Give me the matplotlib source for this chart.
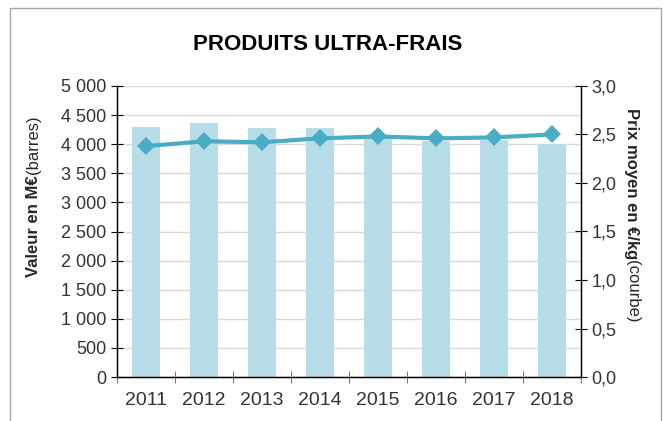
import matplotlib
matplotlib.use('Agg')
import matplotlib.pyplot as plt
from matplotlib.lines import Line2D
import numpy as np

plt.rcParams['font.family'] = ['Liberation Sans', 'DejaVu Sans']

# données
annees = ['2011', '2012', '2013', '2014', '2015', '2016', '2017', '2018']
valeur = [4300, 4370, 4270, 4285, 4165, 4060, 4070, 3995]   # M€ (barres)
prix = [2.38, 2.43, 2.42, 2.46, 2.48, 2.46, 2.47, 2.50]      # €/kg (courbe)

W, H = 663, 421
fig = plt.figure(figsize=(W / 100, H / 100), dpi=100, facecolor='w')

# cadre gris autour du graphique
fig.add_artist(Line2D([9.5 / W, 9.5 / W, 660.5 / W, 660.5 / W],
                      [0, 1 - 8 / H, 1 - 8 / H, 0],
                      transform=fig.transFigure, color='#a6a6a6', lw=1))

ax = fig.add_axes([117 / W, 1 - 377 / H, (581 - 117) / W, (377 - 86) / H])
x = np.arange(len(annees))

ax.bar(x, valeur, width=0.48, color='#b7dde8', zorder=2)
ax.set_ylim(0, 5000)
ax.set_xlim(-0.5, len(annees) - 0.5)
ax.set_yticks(np.arange(0, 5001, 500))
ax.set_yticklabels([f'{v:,}'.replace(',', ' ') for v in range(0, 5001, 500)])
ax.grid(axis='y', color='#d9d9d9', lw=1, zorder=0)
ax.set_axisbelow(True)

ax.set_xticks(x)
ax.set_xticklabels(annees)
ax.set_xticks(np.arange(-0.5, len(annees), 1), minor=True)
ax.tick_params(axis='x', which='major', length=0, labelsize=14, colors='#333333', pad=11)
ax.tick_params(axis='x', which='minor', direction='inout', length=9, color='#595959')
ax.tick_params(axis='y', direction='inout', length=9, labelsize=13, labelcolor='#333333', pad=3)

ax.spines['top'].set_visible(False)
for s in ['left', 'bottom', 'right']:
  ax.spines[s].set_color('black')
  ax.spines[s].set_linewidth(1)

ax2 = ax.twinx()
ax2.plot(x, prix, color='#4bacc6', lw=3, marker='D', ms=9, mew=0, zorder=3)
ax2.set_ylim(0, 3)
ax2.set_yticks(np.arange(0, 3.01, 0.5))
ax2.set_yticklabels([f'{v:.1f}'.replace('.', ',') for v in np.arange(0, 3.01, 0.5)])
ax2.tick_params(axis='y', direction='inout', length=9, labelsize=13, labelcolor='#333333', pad=3)
ax2.spines['top'].set_visible(False)
ax2.spines['right'].set_color('black')

fig.text(328 / W, 1 - 45 / H, 'PRODUITS ULTRA-FRAIS', ha='center', va='center',
         fontsize=16, fontweight='bold', color='black')

# titres d'axes (partie grasse + partie normale)
fig.canvas.draw()
r = fig.canvas.get_renderer()

t1 = fig.text(33 / W, 1 - 277 / H, 'Valeur en M€', rotation=90, rotation_mode='anchor',
              ha='left', va='center', fontsize=12, fontweight='bold', color='#262626')
h1 = t1.get_window_extent(r).height
fig.text(33 / W, 1 - 277 / H + (h1 + 1) / H, '(barres)', rotation=90, rotation_mode='anchor',
         ha='left', va='center', fontsize=12, color='#262626')

t2 = fig.text(632 / W, 1 - 108 / H, 'Prix moyen en €/kg', rotation=-90, rotation_mode='anchor',
              ha='left', va='center', fontsize=12, fontweight='bold', color='#262626')
h2 = t2.get_window_extent(r).height
fig.text(632 / W, 1 - 108 / H - (h2 + 1) / H, '(courbe)', rotation=-90, rotation_mode='anchor',
         ha='left', va='center', fontsize=12, color='#262626')

plt.savefig('out.png', dpi=100, facecolor='w')
